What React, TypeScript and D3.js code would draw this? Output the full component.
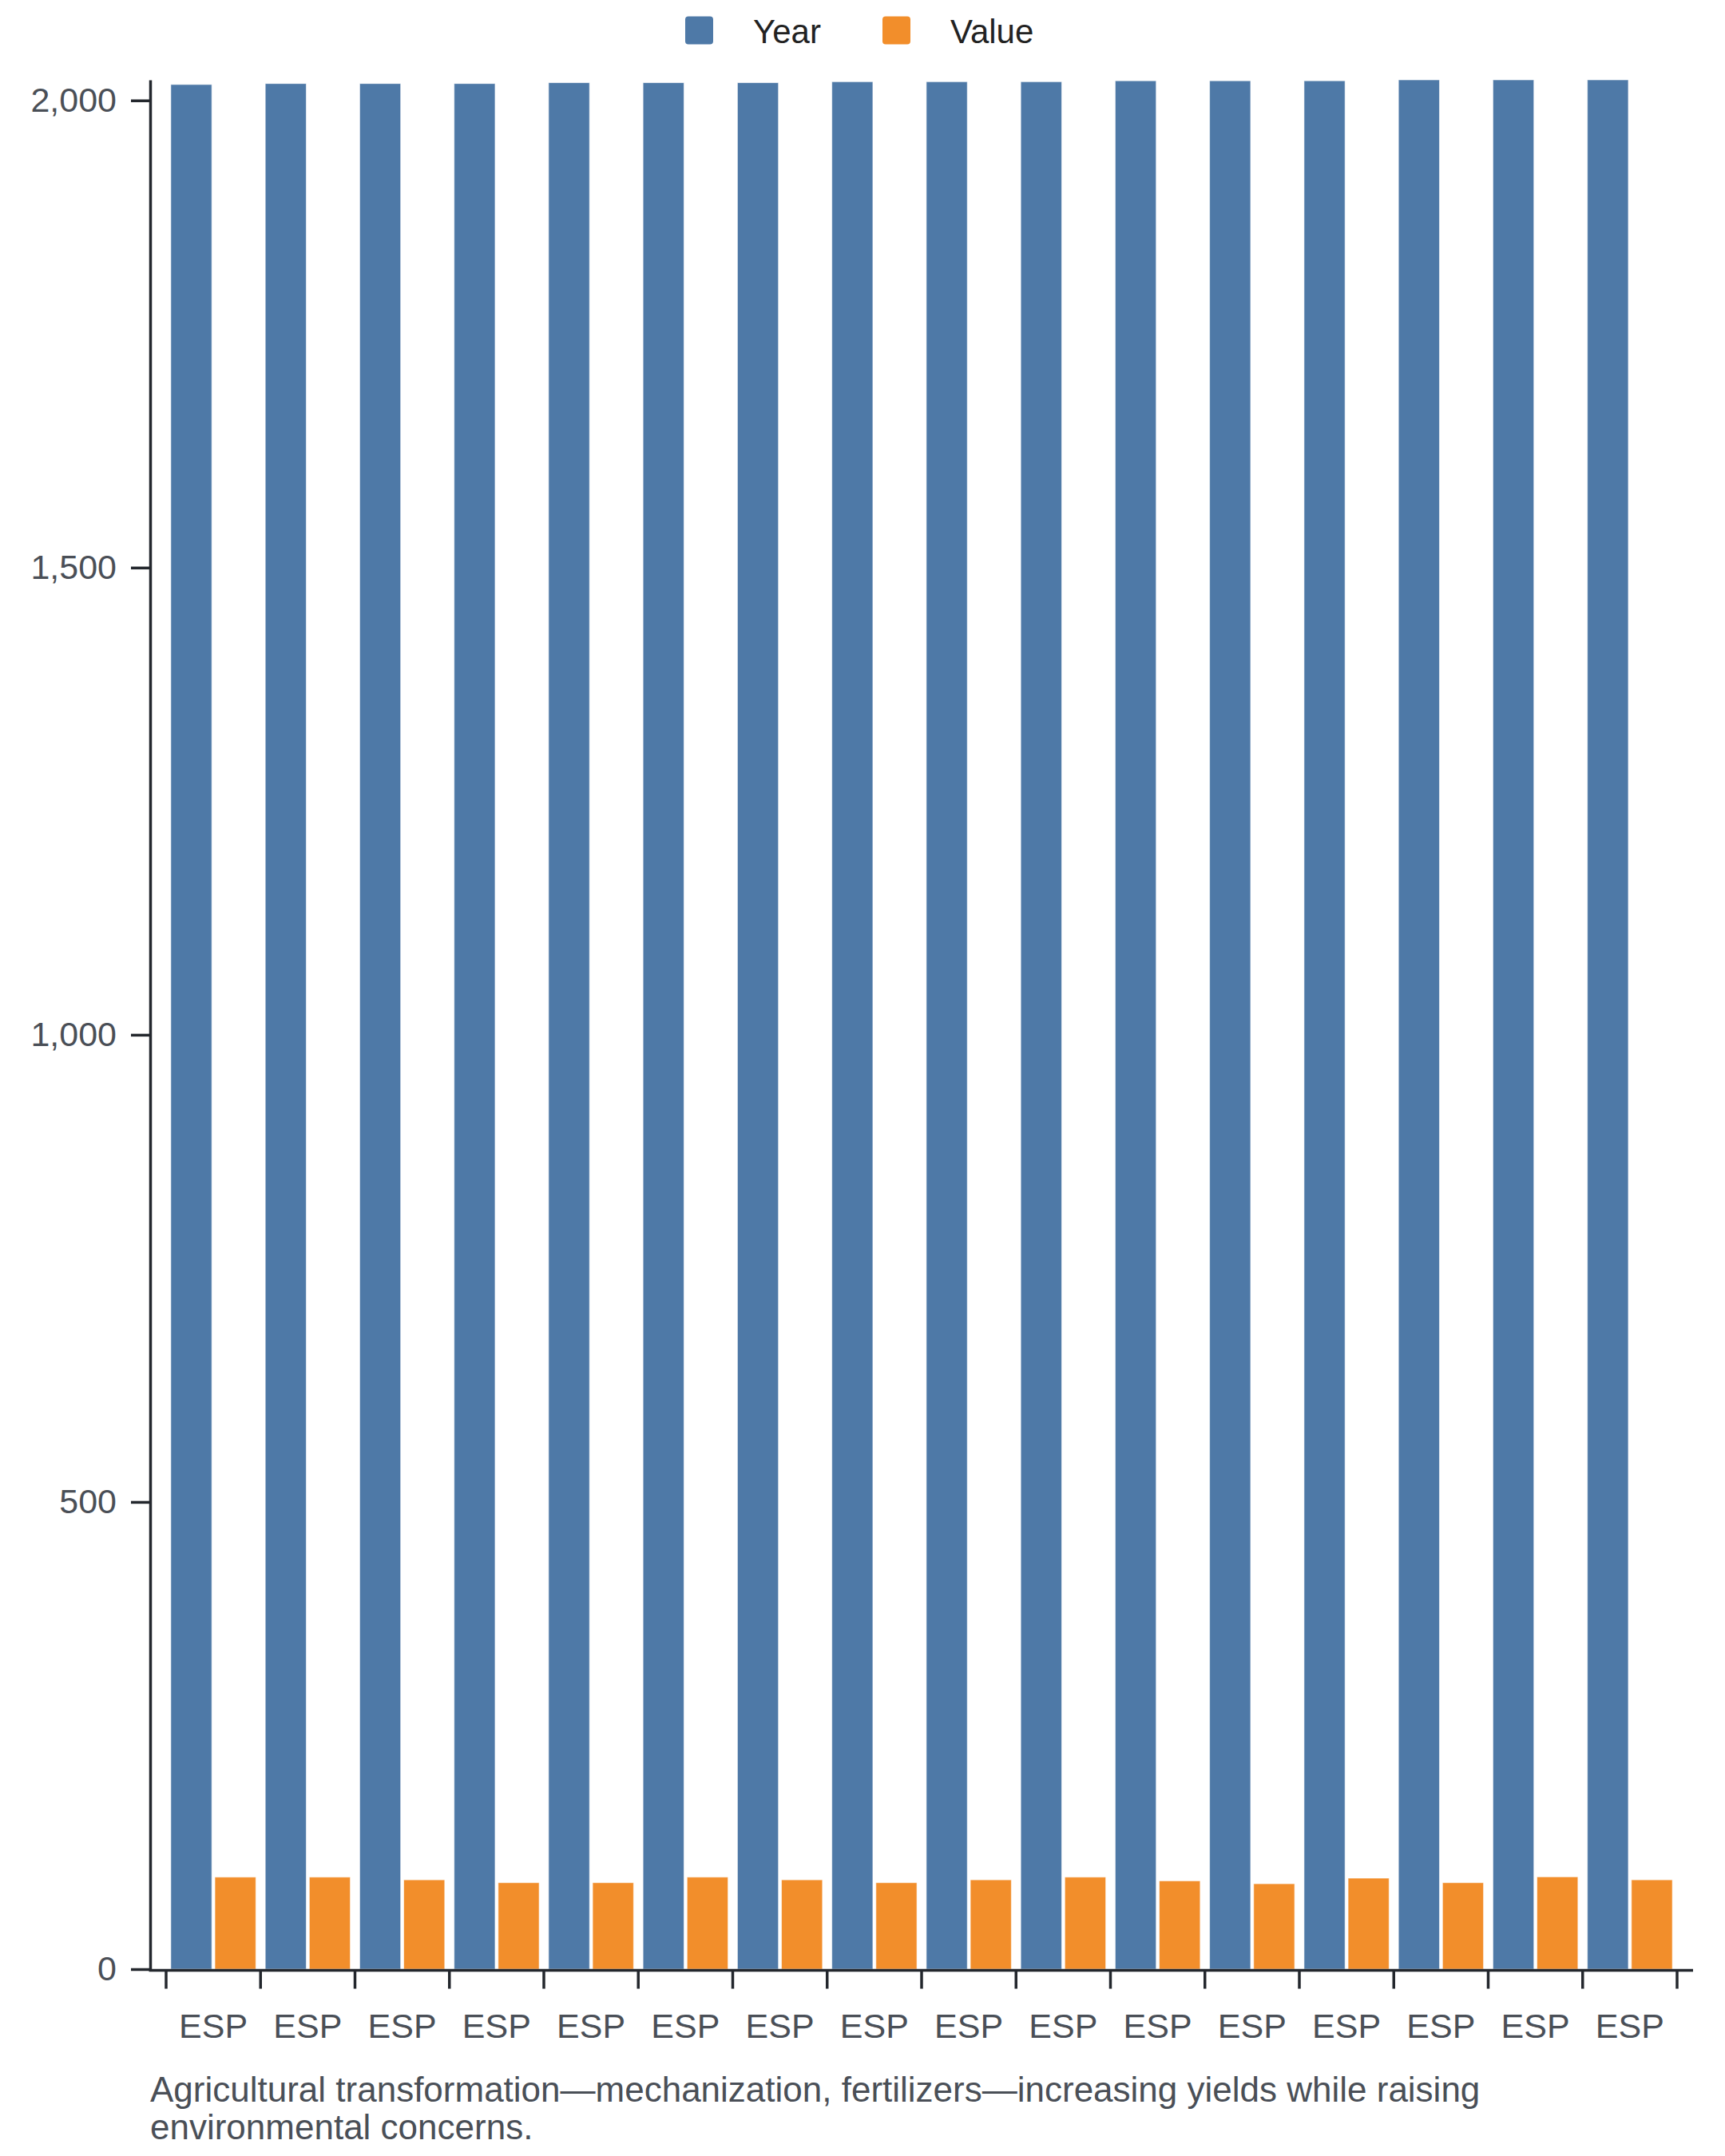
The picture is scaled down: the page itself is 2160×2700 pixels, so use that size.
import React, { useRef, useEffect } from 'react';
import * as d3 from 'd3';

// One row per bar group
const countries = ['ESP', 'ESP', 'ESP', 'ESP', 'ESP', 'ESP', 'ESP', 'ESP', 'ESP', 'ESP', 'ESP', 'ESP', 'ESP', 'ESP', 'ESP', 'ESP'];
const years = [2017, 2018, 2018, 2018, 2019, 2019, 2019, 2020, 2020, 2020, 2021, 2021, 2021, 2022, 2022, 2022];
const values = [98.5, 98.5, 95.6, 92.5, 92.5, 98.5, 95.6, 92.5, 95.6, 98.5, 94.5, 91.4, 97.4, 92.5, 98.8, 95.6];
const seriesKeys = ['Year', 'Value'];
const seriesColors = ['#4e79a7', '#f28e2b'];
const yTicks = [0, 500, 1000, 1500, 2000];
const caption = [
  'Agricultural transformation—mechanization, fertilizers—increasing yields while raising',
  'environmental concerns.',
];

const FONT = '"Liberation Sans", Arial, Helvetica, sans-serif';

export default function GroupedBarChart() {
  const svgRef = useRef<SVGSVGElement>(null);

  useEffect(() => {
    if (!svgRef.current) return;
    document.body.style.margin = '0';

    const svg = d3.select(svgRef.current);
    svg.selectAll('*').remove();

    const width = 2160;
    const height = 2700;
    const margin = { top: 100, right: 40, bottom: 234, left: 188 };
    const innerWidth = width - margin.left - margin.right;
    const innerHeight = height - margin.top - margin.bottom;

    const rows = countries.map((c, i) => ({ id: i, country: c, Year: years[i], Value: values[i] }));

    const g = svg.append('g').attr('transform', `translate(${margin.left},${margin.top})`);

    const x0 = d3.scaleBand<number>()
      .domain(rows.map(d => d.id))
      .range([20, innerWidth - 20])
      .paddingInner(0.1)
      .paddingOuter(0.05);

    const x1 = d3.scaleBand<string>()
      .domain(seriesKeys)
      .range([0, x0.bandwidth()])
      .paddingInner(0.07);

    const y = d3.scaleLinear()
      .domain([0, d3.max(years) as number])
      .range([innerHeight, 0]);

    const color = d3.scaleOrdinal<string, string>().domain(seriesKeys).range(seriesColors);

    // Bars
    const groups = g.selectAll('.group')
      .data(rows)
      .enter()
      .append('g')
      .attr('class', 'group')
      .attr('transform', d => `translate(${x0(d.id)},0)`);

    groups.selectAll('rect')
      .data(d => seriesKeys.map(k => ({ key: k, value: (d as any)[k] as number })))
      .enter()
      .append('rect')
      .attr('x', d => x1(d.key) as number)
      .attr('y', d => y(d.value))
      .attr('width', x1.bandwidth())
      .attr('height', d => innerHeight - y(d.value))
      .attr('fill', d => color(d.key))
      .attr('stroke', '#ffffff')
      .attr('stroke-opacity', 0.6)
      .attr('stroke-width', 1);

    const axisColor = '#23272d';
    const labelColor = '#4a4f57';

    // Y axis
    const yAxis = g.append('g')
      .call(d3.axisLeft(y).tickValues(yTicks).tickSize(24).tickSizeOuter(0).tickPadding(18).tickFormat(d3.format(',') as any));
    yAxis.select('.domain').attr('stroke', axisColor).attr('stroke-width', 3.5);
    yAxis.selectAll('.tick line').attr('stroke', axisColor).attr('stroke-width', 3.5);
    yAxis.selectAll('.tick text')
      .attr('fill', labelColor)
      .style('font-family', FONT)
      .style('font-size', '43px');

    // X axis: baseline, ticks at band boundaries, labels at band centres
    const xAxis = g.append('g').attr('transform', `translate(0,${innerHeight + 1.5})`);
    xAxis.append('line')
      .attr('x1', -1.5)
      .attr('x2', innerWidth)
      .attr('stroke', axisColor)
      .attr('stroke-width', 3.5);

    const edges = d3.range(rows.length + 1).map(i => x0.range()[0] + i * x0.step());
    xAxis.selectAll('.xtick')
      .data(edges)
      .enter()
      .append('line')
      .attr('class', 'xtick')
      .attr('x1', d => d)
      .attr('x2', d => d)
      .attr('y1', 0)
      .attr('y2', 23)
      .attr('stroke', axisColor)
      .attr('stroke-width', 3.5);

    xAxis.selectAll('.xlabel')
      .data(rows)
      .enter()
      .append('text')
      .attr('class', 'xlabel')
      .attr('x', d => (x0(d.id) as number) + x0.bandwidth() / 2)
      .attr('y', 84)
      .attr('text-anchor', 'middle')
      .attr('fill', labelColor)
      .style('font-family', FONT)
      .style('font-size', '43px')
      .text(d => d.country);

    // Legend
    const legendX = [858, 1105];
    const legend = svg.append('g');
    const items = legend.selectAll('.item')
      .data(seriesKeys)
      .enter()
      .append('g')
      .attr('class', 'item')
      .attr('transform', (_, i) => `translate(${legendX[i]},20.5)`);
    items.append('rect')
      .attr('width', 35)
      .attr('height', 35)
      .attr('rx', 4)
      .attr('fill', d => color(d));
    items.append('text')
      .attr('x', 85)
      .attr('y', 33)
      .attr('fill', '#222222')
      .style('font-family', FONT)
      .style('font-size', '42px')
      .text(d => d);

    // Caption
    svg.append('g')
      .selectAll('text')
      .data(caption)
      .enter()
      .append('text')
      .attr('x', margin.left)
      .attr('y', (_, i) => 2631.5 + i * 47.6)
      .attr('fill', labelColor)
      .style('font-family', FONT)
      .style('font-size', '44px')
      .text(d => d);
  }, []);

  return <svg ref={svgRef} width={2160} height={2700} style={{ display: 'block' }} />;
}
